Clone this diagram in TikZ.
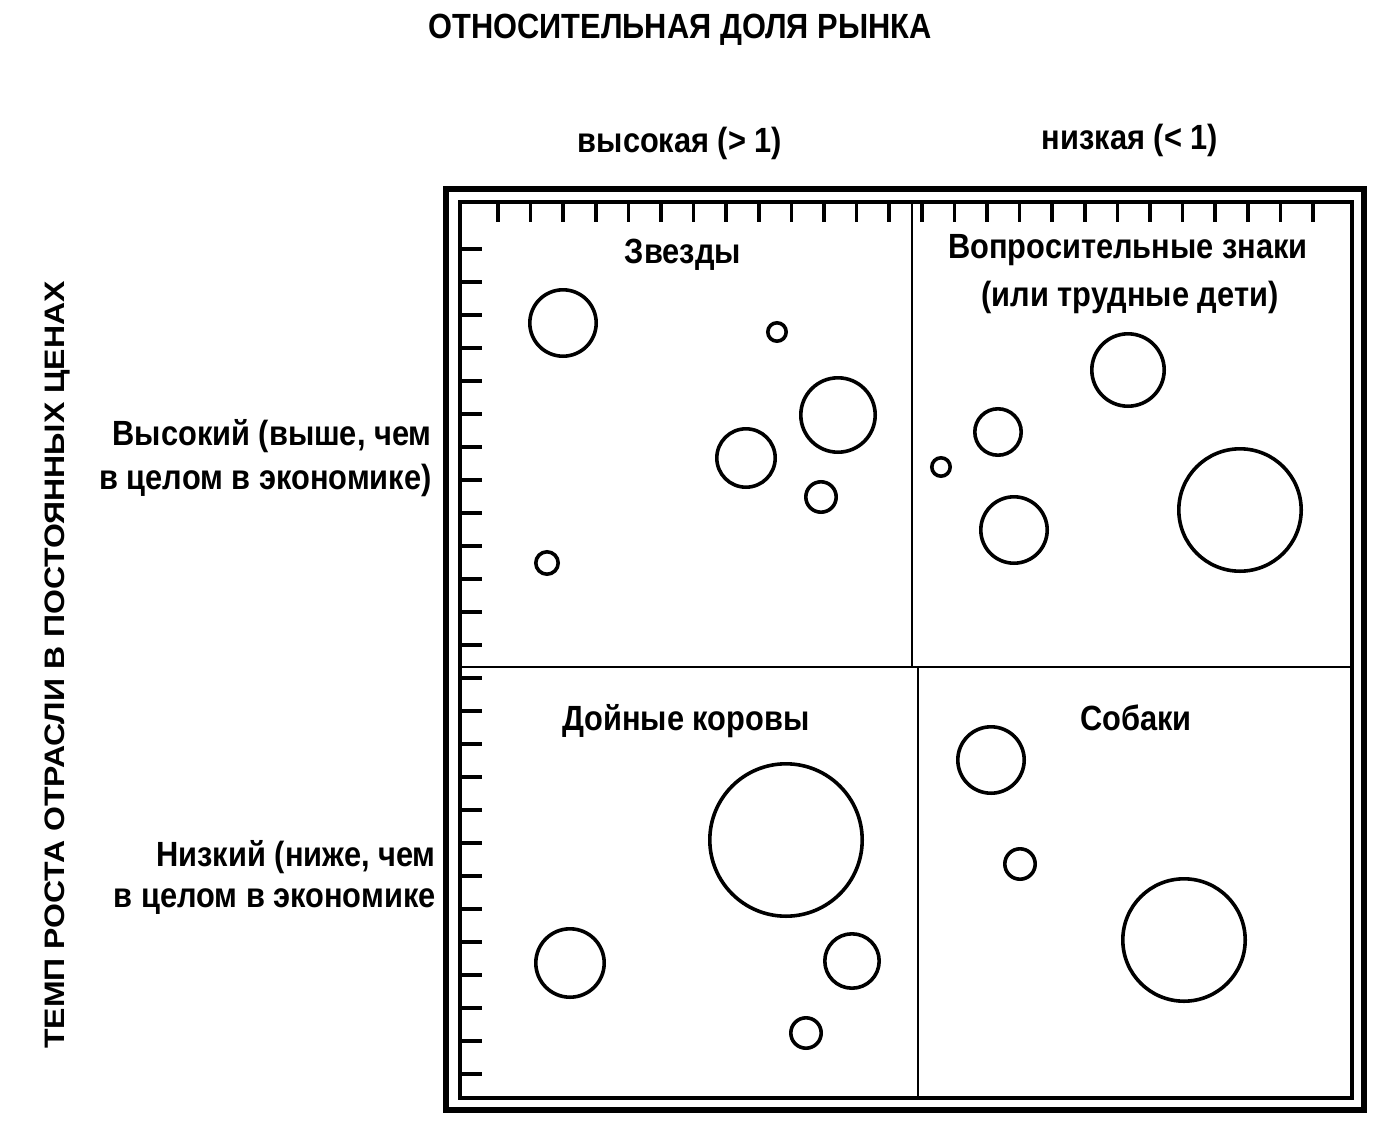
\documentclass[tikz,border=0pt]{standalone}
\usepackage{fontspec}
\setmainfont{Liberation Sans}
\begin{document}
\begin{tikzpicture}[x=0.5pt,y=-0.5pt,
  lbl/.style={font=\bfseries\fontsize{17.5}{20}\selectfont,xscale=0.88,inner sep=0},
  vlbl/.style={font=\bfseries\fontsize{16}{20}\selectfont,xscale=0.88,inner sep=0},
  bub/.style={draw,line width=1.8pt},
  tick/.style={line width=1.8pt}]
\useasboundingbox (0,0) rectangle (1392,1124);
% frames
\draw[line width=3pt] (446,189) rectangle (1364,1110);
\draw[line width=1.8pt] (460,202) rectangle (1352,1098);
\draw[line width=1pt] (912,202) -- (912,667) -- (918,667) -- (918,1098);
\draw[line width=1pt] (460,667) -- (1352,667);
\foreach \k in {0,...,25} {
  \draw[tick] ({498+32.6*\k},202) -- ({498+32.6*\k},222);
  \draw[tick] (460,{249+33*\k}) -- (482,{249+33*\k});
}
% bubbles
\foreach \x/\y/\r/\n in {563/323/35/a1,777/332/11/a2,838/415/39/a3,746/458/31/a4,821/497/17/a5,547/563/13/a6,
  1128/370/38/b1,998/432/25/b2,941/467/11/b3,1014/530/35/b4,1240/510/63/b5,
  786/840/78/c1,570/963/36/c2,852/961/29/c3,806/1033/17/c4,
  991/760/35/d1,1020/864/17/d2,1184/940/63/d3}
  \node[bub,circle,minimum size={\r*2*0.5pt-1.8pt},inner sep=0] (\n) at (\x,\y) {};
% texts
\node[lbl] (t0) at (680,30) {ОТНОСИТЕЛЬНАЯ ДОЛЯ РЫНКА};
\node[lbl] (t1) at (680,143) {высокая (> 1)};
\node[lbl] (t2) at (1130,140) {низкая (< 1)};
\node[lbl] (q1) at (683,255) {Звезды};
\node[lbl] (q2) at (1128,250) {Вопросительные знаки};
\node[lbl] (q2b) at (1130,297) {(или трудные дети)};
\node[lbl] (q3) at (686,721) {Дойные коровы};
\node[lbl] (q4) at (1136,718) {Собаки};
\node[lbl,anchor=east] (h1) at (432,436) {Высокий (выше, чем};
\node[lbl,anchor=east] (h2) at (432,480) {в целом в экономике)};
\node[lbl,anchor=east] (l1) at (436,857) {Низкий (ниже, чем};
\node[lbl,anchor=east] (l2) at (436,902) {в целом в экономике};
\node[vlbl,rotate=90] (v) at (57,665) {ТЕМП РОСТА ОТРАСЛИ В ПОСТОЯННЫХ ЦЕНАХ};
\end{tikzpicture}
\end{document}
